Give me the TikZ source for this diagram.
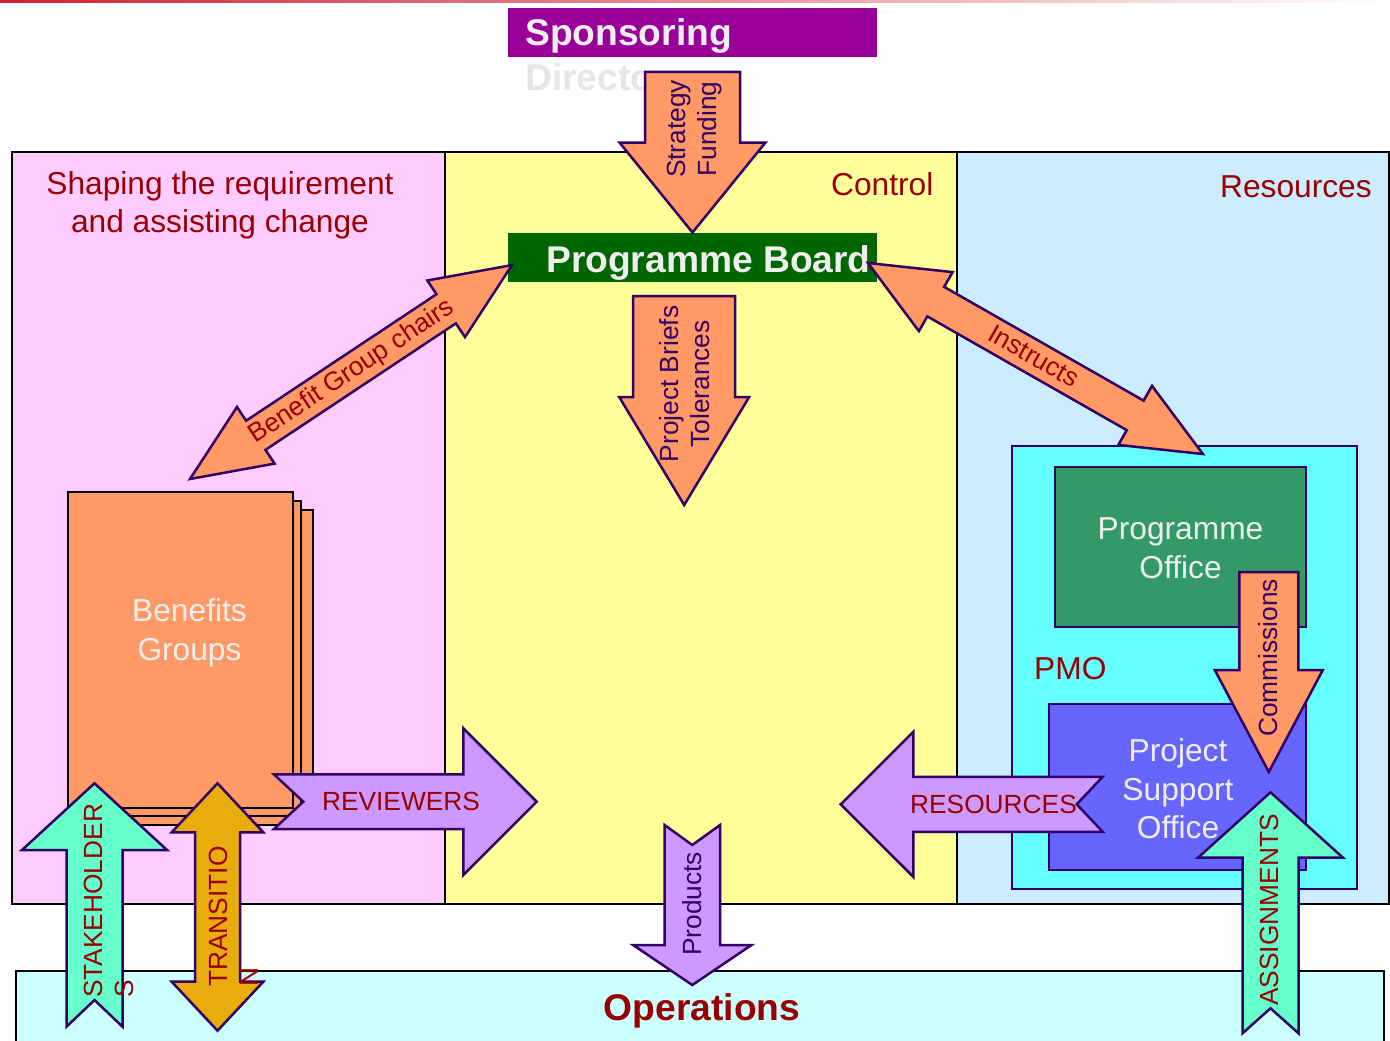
\documentclass[tikz,border=0pt]{standalone}
\usepackage{fontspec}
\setmainfont{Liberation Sans}
\definecolor{pinkbg}{HTML}{FFCCFF}
\definecolor{yellowbg}{HTML}{FFFF99}
\definecolor{bluebg}{HTML}{CCECFF}
\definecolor{opsbg}{HTML}{CCFFFF}
\definecolor{pmobg}{HTML}{66FFFF}
\definecolor{pogreen}{HTML}{339966}
\definecolor{psoblue}{HTML}{6666FF}
\definecolor{sponsor}{HTML}{990099}
\definecolor{boardgreen}{HTML}{006600}
\definecolor{orangefill}{HTML}{FF9966}
\definecolor{lavender}{HTML}{CC99FF}
\definecolor{mint}{HTML}{66FFCC}
\definecolor{gold}{HTML}{E8AC0C}
\definecolor{darkred}{HTML}{990000}
\definecolor{navy}{HTML}{330066}
\definecolor{offwhite}{HTML}{EEEEEE}
\definecolor{ghost}{HTML}{E6E6E6}
\definecolor{topred}{HTML}{CC2233}
% single block arrow: style, tail point, angle, length, shaft half-width, head half-width, head length, tail notch, name
\newcommand\ArrowS[9]{%
  \begin{scope}[shift={#2},rotate=#3]
    \draw[barrow,#1] (0,#5) -- ({#4-#7},#5) -- ({#4-#7},#6) -- (#4,0) -- ({#4-#7},-#6) -- ({#4-#7},-#5) -- (0,-#5) -- (#8,0) -- cycle;
    \coordinate (#9) at ({#4/2},0);
  \end{scope}}
% double block arrow: style, end point, angle, length, shaft half-width, head half-width, head length, name
\newcommand\ArrowD[8]{%
  \begin{scope}[shift={#2},rotate=#3]
    \draw[barrow,#1] (0,0) -- (#7,#6) -- (#7,#5) -- ({#4-#7},#5) -- ({#4-#7},#6) -- (#4,0) -- ({#4-#7},-#6) -- ({#4-#7},-#5) -- (#7,-#5) -- (#7,-#6) -- cycle;
    \coordinate (#8) at ({#4/2},0);
  \end{scope}}
\begin{document}
\begin{tikzpicture}[x=1pt,y=-1pt,
  panel/.style={draw=black,line width=2.3pt,anchor=north west,inner sep=0pt,outer sep=0pt},
  nbox/.style={draw=navy,line width=2.5pt,anchor=north west,inner sep=0pt,outer sep=0pt},
  fillbox/.style={anchor=north west,inner sep=0pt,outer sep=0pt},
  barrow/.style={draw=navy,line width=2.5pt,line join=miter},
  headtxt/.style={font=\fontsize{31.7}{38}\selectfont,text=darkred,inner sep=0pt},
  boldtxt/.style={font=\bfseries\fontsize{37.2}{44}\selectfont,inner sep=0pt},
  boxtxt/.style={font=\fontsize{31.7}{38.5}\selectfont,text=offwhite,align=center,inner sep=0pt},
  redlbl/.style={font=\fontsize{26.3}{31}\selectfont,text=darkred,inner sep=0pt},
  navylbl/.style={font=\fontsize{26.3}{31}\selectfont,text=navy,inner sep=0pt,align=center}]
\useasboundingbox (0,0) rectangle (1390,1041);
\fill[white] (0,0) rectangle (1390,1041);
\shade[left color=topred,right color=white] (0,0) rectangle (1390,3);

% panels
\node[panel,fill=pinkbg,minimum width=433,minimum height=752] (shaping) at (12,152) {};
\node[panel,fill=yellowbg,minimum width=512,minimum height=752] (control) at (445,152) {};
\node[panel,fill=bluebg,minimum width=432,minimum height=752] (resources) at (957,152) {};
\node[panel,fill=opsbg,minimum width=1368,minimum height=80] (ops) at (16,971) {};

\node[headtxt,align=center] (shapingtxt) at (220,205) {Shaping the requirement\\and assisting change};
\node[headtxt,anchor=base west] (controltxt) at (831,195) {Control};
\node[headtxt,anchor=base west] (restxt) at (1220,197) {Resources};
\node[boldtxt,text=darkred,anchor=base] (opstxt) at (702,1020) {Operations};

% sponsoring directorate
\node[fillbox,fill=sponsor,minimum width=369,minimum height=49] (sponsor) at (508,8) {};
\node[boldtxt,text=offwhite,anchor=base west] (sponsortxt) at (525,46) {Sponsoring};
\node[boldtxt,text=ghost,anchor=base west] (directotxt) at (525,91) {Directo};

% programme board
\node[fillbox,fill=boardgreen,minimum width=369,minimum height=49] (board) at (508,233) {};
\node[boldtxt,text=offwhite,anchor=base west] (boardtxt) at (546,272) {Programme Board};

% PMO
\node[nbox,fill=pmobg,minimum width=345,minimum height=443] (pmo) at (1012,446) {};
\node[headtxt,anchor=base west] (pmotxt) at (1034,679) {PMO};
\node[nbox,fill=pogreen,minimum width=251,minimum height=160] (po) at (1055,467) {};
\node[boxtxt] (potxt) at (1180.5,548) {Programme\\Office};
\node[nbox,fill=psoblue,minimum width=257,minimum height=166] (pso) at (1049,704) {};
\node[boxtxt] (psotxt) at (1178,789) {Project\\Support\\Office};

% benefits groups stack
\node[panel,fill=orangefill,minimum width=226,minimum height=315] (bg3) at (87,510) {};
\node[panel,fill=orangefill,minimum width=224,minimum height=315] (bg2) at (77,501) {};
\node[panel,fill=orangefill,minimum width=225,minimum height=316] (bg1) at (68,492) {};
\node[boxtxt] (bgtxt) at (189.5,633) {Benefits\\Groups};

% arrows
\ArrowS{fill=orangefill}{(692.5,72)}{-90}{160.5}{47.5}{73}{90}{0}{stratc}
\node[navylbl,rotate=90] (strattxt) at (695,129) {Strategy\\Funding};

\ArrowS{fill=orangefill}{(684.2,296)}{-90}{209}{51}{65}{108}{0}{briefc}
\node[navylbl,rotate=90] (brieftxt) at (685,384) {Project Briefs\\Tolerances};

\ArrowD{fill=orangefill}{(190,479)}{33.6}{386.6}{17.5}{34}{79}{benc}
\node[redlbl,rotate=33.6] (bentxt) at (352,372) {Benefit Group chairs};

\ArrowD{fill=orangefill}{(868,263)}{-29.7}{385.6}{17}{34}{78}{insc}
\node[redlbl,rotate=-29.7] (instxt) at (1034,356) {Instructs};

\ArrowS{fill=lavender}{(274,801.7)}{0}{262.7}{27.3}{73.3}{73.3}{29.3}{revc}
\node[redlbl] (revtxt) at (401,801) {REVIEWERS};

\ArrowS{fill=lavender}{(1102.7,804.3)}{180}{262}{27.5}{72.5}{72.6}{26}{resc}
\node[redlbl] (restxt2) at (993.5,804) {RESOURCES};

\ArrowS{fill=lavender}{(692.3,825)}{-90}{160}{27.7}{59.2}{40}{20}{prodc}
\node[navylbl,rotate=90] (prodtxt) at (692,904) {Products};

\ArrowS{fill=orangefill}{(1268.8,572)}{-90}{200}{29.5}{54}{102}{0}{commc}
\node[navylbl,rotate=90] (commtxt) at (1268,658) {Commissions};

\ArrowS{fill=mint}{(1270.5,1033.3)}{90}{241}{28}{72.5}{65.4}{25}{assc}
\node[redlbl,rotate=90] (asstxt) at (1269,910) {ASSIGNMENTS};

\ArrowS{fill=mint}{(94.5,1026.7)}{90}{243.4}{28}{72.5}{66.7}{26.7}{stakec}
\node[redlbl,rotate=90,align=left,anchor=west] (staketxt) at (109,998) {STAKEHOLDER\\S};

\ArrowD{fill=gold}{(217.5,1030.7)}{90}{247.4}{22.5}{45.8}{49}{tranc}
\node[redlbl,rotate=90,align=left,anchor=west] (trantxt) at (234,987) {TRANSITIO\\N};
\end{tikzpicture}
\end{document}
